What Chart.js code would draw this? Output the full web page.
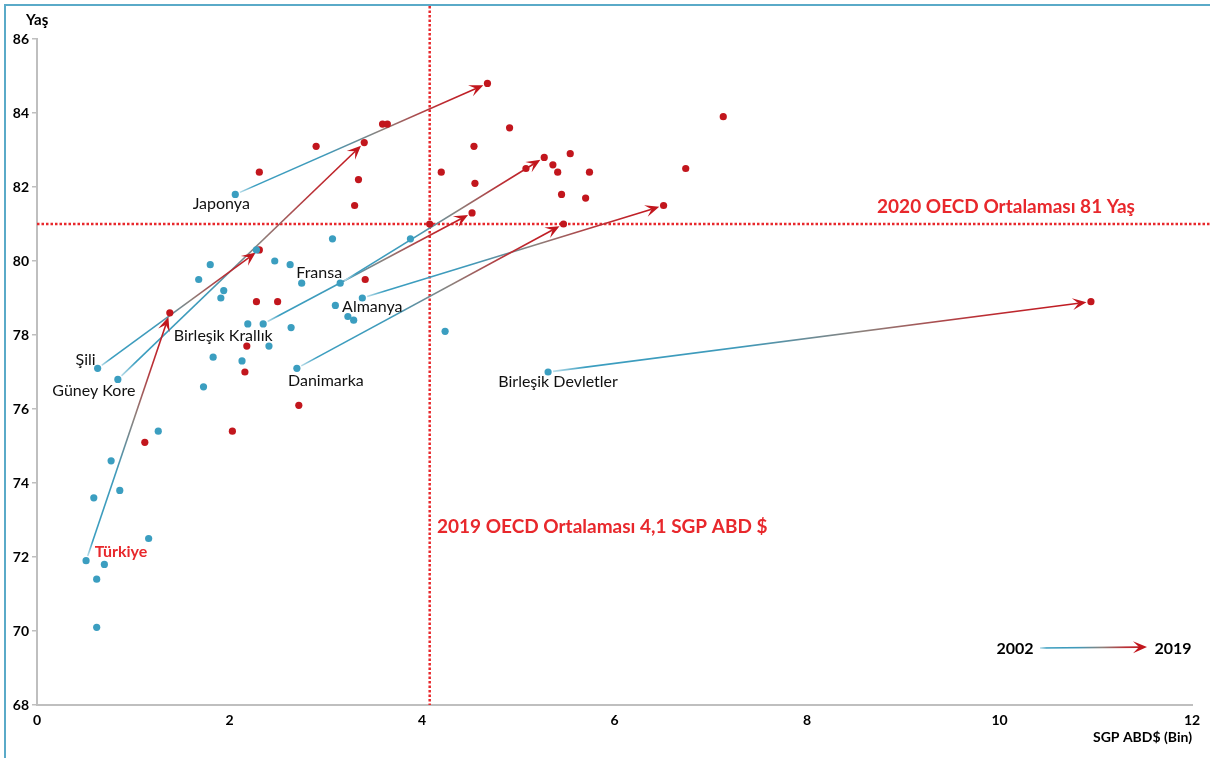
<!DOCTYPE html>
<html>
<head>
<meta charset="utf-8">
<script src="https://cdn.jsdelivr.net/npm/chart.js@4/dist/chart.umd.min.js"></script>
<style>
  html, body { margin: 0; padding: 0; background: #fff; }
  #wrap { width: 1210px; height: 758px; }
</style>
</head>
<body>
<div id="wrap"><canvas id="chart" width="1210" height="758"></canvas></div>
<script>
// labelled countries: 2002 -> 2019
const countries = ['Japonya', 'Güney Kore', 'Şili', 'Türkiye', 'Birleşik Krallık', 'Fransa', 'Almanya', 'Danimarka', 'Birleşik Devletler'];
const spend2002 = [2.06, 0.84, 0.63, 0.51, 2.35, 3.15, 3.38, 2.70, 5.31];
const life2002 = [81.8, 76.8, 77.1, 71.9, 78.3, 79.4, 79.0, 77.1, 77.0];
const spend2019 = [4.68, 3.40, 2.31, 1.38, 4.52, 5.27, 6.51, 5.47, 10.95];
const life2019 = [84.8, 83.2, 80.3, 78.6, 81.3, 82.8, 81.5, 81.0, 78.9];

// other OECD countries
const otherSpend2002 = [2.28, 3.07, 3.88, 1.80, 1.68, 1.94, 1.91, 2.47, 2.63, 2.75, 2.19, 2.64, 2.41, 1.83, 2.13, 1.73, 3.10, 3.23, 3.29, 4.24, 1.26, 0.77, 0.59, 0.86, 1.16, 0.70, 0.62, 0.62];
const otherLife2002 = [80.3, 80.6, 80.6, 79.9, 79.5, 79.2, 79.0, 80.0, 79.9, 79.4, 78.3, 78.2, 77.7, 77.4, 77.3, 76.6, 78.8, 78.5, 78.4, 78.1, 75.4, 74.6, 73.6, 73.8, 72.5, 71.8, 71.4, 70.1];
const otherSpend2019 = [2.31, 2.90, 3.34, 3.30, 3.59, 3.64, 4.20, 4.54, 4.55, 4.91, 5.08, 5.36, 5.41, 5.54, 5.45, 5.74, 5.70, 6.74, 7.13, 4.08, 3.41, 2.28, 2.50, 2.18, 2.16, 2.72, 2.03, 1.12];
const otherLife2019 = [82.4, 83.1, 82.2, 81.5, 83.7, 83.7, 82.4, 83.1, 82.1, 83.6, 82.5, 82.6, 82.4, 82.9, 81.8, 82.4, 81.7, 82.5, 83.9, 81.0, 79.5, 78.9, 78.9, 77.7, 77.0, 76.1, 75.4, 75.1];

const oecdSpend2019 = 4.08;
const oecdLife2020 = 81;
const xTicks = [0, 2, 4, 6, 8, 10, 12];
const yTicks = [68, 70, 72, 74, 76, 78, 80, 82, 84, 86];

// label placement relative to the 2002 point (px)
const labelOffsets = {
    'Japonya': [-14, 9], 'Güney Kore': [-24, 11], 'Şili': [-12, -8], 'Türkiye': [35, -9],
    'Birleşik Krallık': [-40, 12], 'Fransa': [-21, -10], 'Almanya': [10, 9],
    'Danimarka': [29, 13], 'Birleşik Devletler': [10, 10]
};

const TEAL = '#3b9ec0';
const RED = '#c2161d';
const REF_RED = '#e8282c';

const pts = (xs, ys) => xs.map((x, i) => ({ x: x, y: ys[i] }));

function gradientFor(ctx, x0, y0, x1, y1) {
    const g = ctx.createLinearGradient(x0, y0, x1, y1);
    g.addColorStop(0, '#b9dde9');
    g.addColorStop(0.06, TEAL);
    g.addColorStop(0.35, '#3f9aba');
    g.addColorStop(0.58, '#8c817c');
    g.addColorStop(0.8, '#bb2f35');
    g.addColorStop(1, RED);
    return g;
}

function drawArrow(ctx, x0, y0, x1, y1, back) {
    const dx = x1 - x0, dy = y1 - y0;
    const len = Math.sqrt(dx * dx + dy * dy);
    const ux = dx / len, uy = dy / len;
    const nx = -uy, ny = ux;
    const tx = x1 - ux * back, ty = y1 - uy * back;
    const sx = x0 + ux * 5, sy = y0 + uy * 5;
    ctx.save();
    ctx.strokeStyle = gradientFor(ctx, sx, sy, tx, ty);
    ctx.lineWidth = 1.6;
    ctx.beginPath();
    ctx.moveTo(sx, sy);
    ctx.lineTo(tx - ux * 8, ty - uy * 8);
    ctx.stroke();
    ctx.fillStyle = RED;
    ctx.beginPath();
    ctx.moveTo(tx, ty);
    ctx.lineTo(tx - ux * 14 + nx * 6, ty - uy * 14 + ny * 6);
    ctx.lineTo(tx - ux * 8, ty - uy * 8);
    ctx.lineTo(tx - ux * 14 - nx * 6, ty - uy * 14 - ny * 6);
    ctx.closePath();
    ctx.fill();
    ctx.restore();
}

const decorations = {
    id: 'decorations',
    beforeDatasetsDraw(chart) {
        const ctx = chart.ctx;
        const xs = chart.scales.x, ys = chart.scales.y;
        const area = chart.chartArea;

        // frame
        ctx.save();
        ctx.strokeStyle = '#5aaac8';
        ctx.lineWidth = 2;
        ctx.beginPath();
        ctx.moveTo(5, chart.height);
        ctx.lineTo(5, 5);
        ctx.lineTo(chart.width, 5);
        ctx.stroke();

        // OECD reference lines
        ctx.strokeStyle = REF_RED;
        ctx.lineWidth = 2.5;
        ctx.setLineDash([2.5, 2]);
        const vx = xs.getPixelForValue(oecdSpend2019);
        const hy = ys.getPixelForValue(oecdLife2020);
        ctx.beginPath();
        ctx.moveTo(vx, 6);
        ctx.lineTo(vx, area.bottom);
        ctx.moveTo(area.left, hy);
        ctx.lineTo(chart.width, hy);
        ctx.stroke();
        ctx.setLineDash([]);
        ctx.restore();

        // arrows 2002 -> 2019
        countries.forEach((c, i) => {
            drawArrow(ctx,
                xs.getPixelForValue(spend2002[i]), ys.getPixelForValue(life2002[i]),
                xs.getPixelForValue(spend2019[i]), ys.getPixelForValue(life2019[i]), 4.5);
        });
    },
    afterDatasetsDraw(chart) {
        const ctx = chart.ctx;
        const xs = chart.scales.x, ys = chart.scales.y;
        ctx.save();
        ctx.textBaseline = 'middle';
        ctx.textAlign = 'center';

        countries.forEach((c, i) => {
            const off = labelOffsets[c];
            const px = xs.getPixelForValue(spend2002[i]) + off[0];
            const py = ys.getPixelForValue(life2002[i]) + off[1];
            if (c === 'Türkiye') {
                ctx.font = 'bold 16px Lato';
                ctx.fillStyle = REF_RED;
            } else {
                ctx.font = '16px Lato';
                ctx.fillStyle = '#111';
            }
            ctx.fillText(c, px, py);
        });

        // reference line captions
        ctx.font = 'bold 19px Lato';
        ctx.fillStyle = REF_RED;
        ctx.textAlign = 'center';
        ctx.fillText('2020 OECD Ortalaması 81 Yaş', 1006, 207);
        ctx.textAlign = 'left';
        ctx.fillText('2019 OECD Ortalaması 4,1 SGP ABD $', 437, 527);

        // axis titles
        ctx.fillStyle = '#000';
        ctx.font = 'bold 15px Lato';
        ctx.textAlign = 'left';
        ctx.fillText('Yaş', 26, 20);
        ctx.font = 'bold 14px Lato';
        ctx.textAlign = 'right';
        ctx.fillText('SGP ABD$ (Bin)', 1192, 737);

        // year key
        ctx.font = 'bold 16px Lato';
        ctx.textAlign = 'center';
        ctx.fillText('2002', 1015, 649);
        ctx.fillText('2019', 1173, 649);
        ctx.restore();
        drawArrow(ctx, 1035, 648, 1150, 647, 3);
    }
};

new Chart(document.getElementById('chart'), {
    type: 'scatter',
    data: {
        datasets: [
            {
                label: '2002',
                data: pts(spend2002, life2002).concat(pts(otherSpend2002, otherLife2002)),
                backgroundColor: TEAL,
                pointRadius: 3.6,
                pointBorderWidth: 0
            },
            {
                label: '2019',
                data: pts(spend2019, life2019).concat(pts(otherSpend2019, otherLife2019)),
                backgroundColor: RED,
                pointRadius: 3.6,
                pointBorderWidth: 0
            }
        ]
    },
    options: {
        responsive: false,
        animation: false,
        devicePixelRatio: 1,
        layout: { padding: { top: 39, right: 18, left: 0, bottom: 0 } },
        plugins: { legend: { display: false }, tooltip: { enabled: false } },
        scales: {
            x: {
                type: 'linear',
                min: 0, max: 12,
                afterBuildTicks: s => { s.ticks = xTicks.map(v => ({ value: v })); },
                afterFit: s => { s.height = 53; },
                grid: { display: true, drawOnChartArea: false, drawTicks: false },
                border: { color: '#bfbfbf', width: 2 },
                ticks: { color: '#000', font: { family: 'Lato', size: 14, weight: 'bold' }, padding: 7 }
            },
            y: {
                type: 'linear',
                min: 68, max: 86,
                afterBuildTicks: s => { s.ticks = yTicks.map(v => ({ value: v })); },
                afterFit: s => { s.width = 37; },
                grid: { display: true, drawOnChartArea: false, drawTicks: true, tickLength: 5, color: '#bfbfbf', lineWidth: 1.5 },
                border: { color: '#bfbfbf', width: 2 },
                ticks: { color: '#000', font: { family: 'Lato', size: 14, weight: 'bold' }, padding: 3 }
            }
        }
    },
    plugins: [decorations]
});
</script>
</body>
</html>
